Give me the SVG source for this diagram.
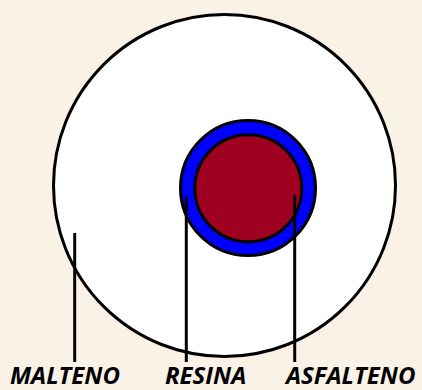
<svg xmlns="http://www.w3.org/2000/svg" width="422" height="390" viewBox="0 0 422 390">
<style>
.c{stroke:#000;stroke-width:3}
.l{stroke:#000;stroke-width:3;fill:none}
.t{font-family:"Open Sans",sans-serif;font-weight:bold;font-style:italic;font-size:24px;fill:#000}
</style>
<rect width="422" height="390" fill="#FBF2E7"/>
<g id="malteno"><circle class="c" cx="224.5" cy="185.5" r="171" fill="#FFFFFF"/></g>
<g id="resina"><circle class="c" cx="248" cy="188" r="67.5" fill="#0000FF"/></g>
<g id="asfalteno"><circle class="c" cx="248.3" cy="188.3" r="53.5" fill="#A00020"/></g>
<g id="connectors">
<line class="l" x1="74.7" y1="233" x2="74.7" y2="362"/>
<line class="l" x1="186.3" y1="197" x2="186.3" y2="362"/>
<line class="l" x1="294.7" y1="195" x2="294.7" y2="362"/>
</g>
<g id="labels">
<text class="t" x="10" y="384">MALTENO</text>
<text class="t" x="165" y="384">RESINA</text>
<text class="t" x="286" y="384">ASFALTENO</text>
</g>
</svg>
